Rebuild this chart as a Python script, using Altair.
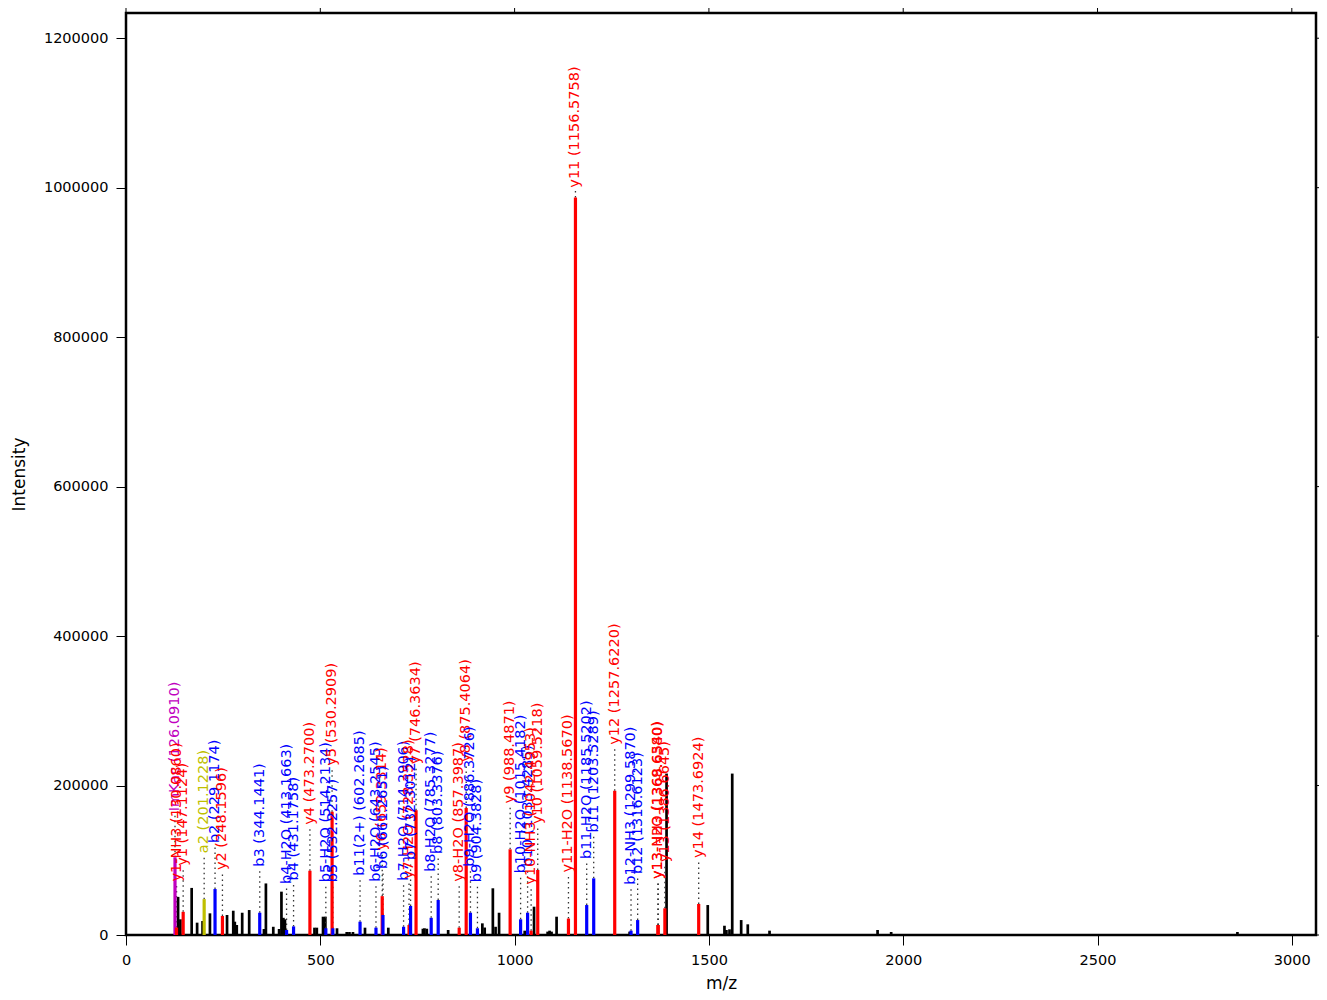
import altair as alt
import pandas as pd

# ---- unannotated peaks (m/z, intensity) ----
other_mz = [134, 140, 169, 183, 197, 216, 260, 276, 280, 285, 299, 317, 355, 360, 379, 394,
            400, 405, 409, 485, 491, 507, 513, 543, 568, 575, 584, 615, 675, 764, 768, 774,
            829, 917, 923, 944, 951, 960, 1026, 1050, 1085, 1090, 1095, 1108, 1296, 1391,
            1497, 1540, 1545, 1553, 1560, 1583, 1600, 1656, 1934, 1969, 2860]
other_int = [51000, 21000, 63000, 16500, 18700, 29000, 26800, 32500, 17800, 13400, 29800, 33400,
             8000, 69000, 11000, 8000, 58000, 23000, 21000, 9800, 9800, 24500, 24500, 9000,
             4000, 4000, 4000, 9800, 9800, 8400, 9000, 8400, 6700, 15600, 10000, 62500, 11000,
             29800, 5800, 37900, 4500, 5800, 4500, 24500, 4500, 216000, 40100, 12400, 6700,
             7600, 216000, 20000, 14300, 5800, 6700, 4000, 4000]

# ---- annotated fragment ions ----
ann_mz = [126.0910, 130.0860, 147.1124, 201.1228, 229.1174, 248.1596, 344.1441, 413.1663,
          431.1758, 473.2700, 514.2134, 530.2909, 532.2257, 602.2685, 643.2545, 659.3314,
          661.2651, 714.2906, 728.3528, 732.3012, 746.3634, 785.3277, 803.3376, 857.3987,
          875.4064, 886.3726, 904.3828, 988.4871, 1015.4182, 1033.4285, 1042.4953, 1059.5218,
          1138.5670, 1156.5758, 1185.5202, 1203.5289, 1257.6220, 1299.5870, 1316.6123,
          1368.6540, 1369.6380, 1386.6645, 1473.6924]
ann_int = [104000, 10000, 31000, 48000, 61500, 25400, 29800, 6700,
           11500, 86000, 9000, 165000, 9000, 17800, 9800, 52000,
           26800, 11000, 13400, 38800, 167000, 23000, 46800, 9800,
           170000, 29800, 9000, 114600, 21000, 29800, 5800, 87000,
           22000, 987000, 40100, 75800, 193000, 5800, 20000,
           13400, 13400, 35700, 41500]
ann_label = ["ImKac (126.0910)", "y1-NH3 (130.0860)", "y1 (147.1124)", "a2 (201.1228)",
             "b2 (229.1174)", "y2 (248.1596)", "b3 (344.1441)", "b4-H2O (413.1663)",
             "b4 (431.1758)", "y4 (473.2700)", "b5-H2O (514.2134)", "y5 (530.2909)",
             "b5 (532.2257)", "b11(2+) (602.2685)", "b6-H2O (643.2545)", "y6 (659.3314)",
             "b6 (661.2651)", "b7-H2O (714.2906)", "y7-H2O (728.3528)", "b7 (732.3012)",
             "y7 (746.3634)", "b8-H2O (785.3277)", "b8 (803.3376)", "y8-H2O (857.3987)",
             "y8 (875.4064)", "b9-H2O (886.3726)", "b9 (904.3828)", "y9 (988.4871)",
             "b10-H2O (1015.4182)", "b10 (1033.4285)", "y10-NH3 (1042.4953)", "y10 (1059.5218)",
             "y11-H2O (1138.5670)", "y11 (1156.5758)", "b11-H2O (1185.5202)", "b11 (1203.5289)",
             "y12 (1257.6220)", "b12-NH3 (1299.5870)", "b12 (1316.6123)",
             "y13-H2O (1368.6540)", "y13-NH3 (1369.6380)", "y13 (1386.6645)", "y14 (1473.6924)"]

x_ticks = [0, 500, 1000, 1500, 2000, 2500, 3000]
y_ticks = [0, 200000, 400000, 600000, 800000, 1000000, 1200000]

ion_names = ["other", "y", "b", "a", "diag"]
ion_colors = ["#000000", "#ff0000", "#0000ff", "#bfbf00", "#c000c0"]


def ion_type(lbl):
    c = lbl[0]
    if c in ("y", "b", "a"):
        return c
    return "diag"


others = pd.DataFrame({"mz": other_mz, "intensity": other_int, "ion": "other"})
ann = pd.DataFrame({"mz": ann_mz, "intensity": ann_int, "label": ann_label,
                    "ion": [ion_type(s) for s in ann_label]})

max_int = max(max(other_int), max(ann_int))
max_mz = max(max(other_mz), max(ann_mz))
xs = alt.Scale(domain=[0, max_mz * 1.0707], nice=False, zero=False)
ys = alt.Scale(domain=[0, max_int * 1.25], nice=False)
cs = alt.Scale(domain=ion_names, range=ion_colors)

x_axis = alt.Axis(title="m/z", values=x_ticks, format="d", titlePadding=9, labelFlush=False)
y_axis = alt.Axis(title="Intensity", values=y_ticks, format="d", titlePadding=15, labelFlush=False)

black_peaks = alt.Chart(others).transform_calculate(zero="0").mark_rule(strokeWidth=2.7).encode(
    x=alt.X("mz:Q", scale=xs, axis=x_axis),
    y=alt.Y("intensity:Q", scale=ys, axis=y_axis),
    y2="zero:Q",
    color=alt.Color("ion:N", scale=cs, legend=None),
)

ann_base = alt.Chart(ann).transform_calculate(
    zero="0",
    base="min(datum.intensity + 61500, 1000000)",
    dot_top="min(datum.intensity + 61500, 1000000) - 4000",
)

ion_peaks = ann_base.mark_rule(strokeWidth=3.2).encode(
    x=alt.X("mz:Q", scale=xs, axis=x_axis),
    y=alt.Y("intensity:Q", scale=ys, axis=y_axis),
    y2="zero:Q",
    color=alt.Color("ion:N", scale=cs, legend=None),
)

dots = ann_base.mark_rule(strokeWidth=1.3, strokeDash=[1.5, 3.5], color="#333333").encode(
    x=alt.X("mz:Q", scale=xs, axis=x_axis),
    y=alt.Y("intensity:Q", scale=ys, axis=y_axis),
    y2="dot_top:Q",
)

labels = ann_base.mark_text(angle=270, align="left", baseline="middle",
                            font="DejaVu Sans", fontSize=14.5).encode(
    x=alt.X("mz:Q", scale=xs, axis=x_axis),
    y=alt.Y("base:Q", scale=ys, axis=y_axis),
    text="label:N",
    color=alt.Color("ion:N", scale=cs, legend=None),
)

# mirrored tick marks on the top and right edges of the frame
top_ticks = alt.Chart(pd.DataFrame({"t": x_ticks})).mark_rule(color="#000000", strokeWidth=1).encode(
    x=alt.X("t:Q", scale=xs, axis=x_axis),
    y=alt.value(-10),
    y2=alt.value(0),
)
right_ticks = alt.Chart(pd.DataFrame({"t": y_ticks})).mark_rule(color="#000000", strokeWidth=1).encode(
    y=alt.Y("t:Q", scale=ys, axis=y_axis),
    x=alt.value(1190),
    x2=alt.value(1201),
)

chart = alt.layer(black_peaks, dots, ion_peaks, labels, top_ticks, right_ticks).properties(
    width=1190, height=922,
    autosize=alt.AutoSizeParams(type="none"),
    padding={"left": 118, "top": 5, "right": 3, "bottom": 57},
).configure_view(stroke="black", strokeWidth=2.5).configure_axis(
    grid=False, domain=False, tickSize=10, tickColor="#000000", tickWidth=1,
    labelFont="DejaVu Sans", labelFontSize=14.5, labelColor="#000000", labelPadding=8,
    titleFont="DejaVu Sans", titleFontSize=17, titleFontWeight="normal", titleColor="#000000",
)

chart.save("out.html", embed_options={"renderer": "svg", "actions": False})
